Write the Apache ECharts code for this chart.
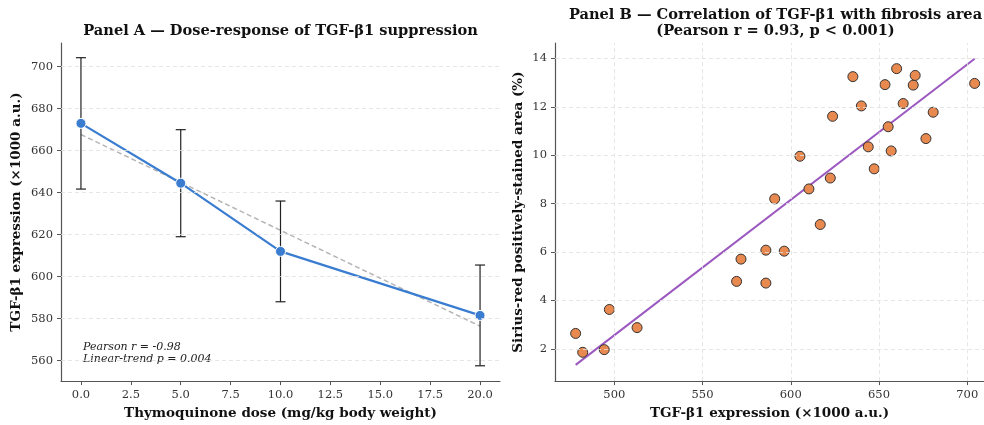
<!DOCTYPE html>
<html>
<head>
<meta charset="utf-8">
<script src="https://cdn.jsdelivr.net/npm/echarts@6/dist/echarts.min.js"></script>
<style>
  html, body { margin: 0; padding: 0; background: #fff; }
  #chart { width: 984px; height: 425px; }
</style>
</head>
<body>
<div id="chart"></div>
<script>
// Panel A: dose-response (mean ± SD)
const doses = [0, 5, 10, 20];
const tgfMeans = [673, 644.5, 612, 581.5];
const tgfErr = [31.3, 25.5, 24, 24];
const doseTicks = [0, 2.5, 5, 7.5, 10, 12.5, 15, 17.5, 20];
const tgfTicks = [560, 580, 600, 620, 640, 660, 680, 700];
const statsTextA = ['Pearson r = -0.98', 'Linear-trend p = 0.004'];
const titleA = 'Panel A — Dose-response of TGF-β1 suppression';

// Panel B: per-animal TGF-β1 vs Sirius-red area
const tgfExpr = [478.1, 482.1, 494.3, 497.2, 512.9, 569.3, 571.8, 585.9, 585.9, 596.3,
                 616.7, 590.9, 610.3, 605.2, 622.4, 623.7, 635.2, 640.0, 643.9, 647.3,
                 653.4, 655.2, 656.9, 660.0, 663.7, 669.4, 670.5, 676.6, 680.7, 704.2];
const fibrosisArea = [2.64, 1.86, 1.97, 3.63, 2.88, 4.79, 5.71, 6.08, 4.72, 6.04,
                      7.14, 8.20, 8.61, 9.96, 9.06, 11.61, 13.25, 12.04, 10.35, 9.44,
                      12.92, 11.18, 10.18, 13.58, 12.14, 12.90, 13.30, 10.69, 11.78, 12.97];
const exprTicks = [500, 550, 600, 650, 700];
const areaTicks = [2, 4, 6, 8, 10, 12, 14];
const titleB = ['Panel B — Correlation of TGF-β1 with fibrosis area', '(Pearson r = 0.93, p < 0.001)'];

// least-squares fit helper
function linFit(xs, ys) {
  const n = xs.length;
  const mx = xs.reduce((a, b) => a + b, 0) / n;
  const my = ys.reduce((a, b) => a + b, 0) / n;
  let sxy = 0, sxx = 0;
  for (let i = 0; i < n; i++) { sxy += (xs[i] - mx) * (ys[i] - my); sxx += (xs[i] - mx) ** 2; }
  const b = sxy / sxx;
  return { a: my - b * mx, b: b };
}

const fitA = linFit(doses, tgfMeans);
const trendA = [Math.min(...doses), Math.max(...doses)].map(x => [x, fitA.a + fitA.b * x]);
const fitB = linFit(tgfExpr, fibrosisArea);
const xMinB = Math.min(...tgfExpr), xMaxB = Math.max(...tgfExpr);
const trendB = [xMinB, xMaxB].map(x => [x, fitB.a + fitB.b * x]);

const FONT = 'DejaVu Serif';
const axisColor = '#555';
const labelColor = '#333';
const TICK_FONT = 11.5;

function gridLines(values) {
  return values.map(v => ({ yAxis: v }));
}

function valueAxis(gridIndex, min, max, ticks, name, nameGap, fmt) {
  return {
    type: 'value', gridIndex: gridIndex, min: min, max: max,
    axisLine: { show: true, onZero: false, lineStyle: { color: axisColor, width: 1.2 } },
    axisTick: { show: true, inside: false, length: 4, customValues: ticks,
                lineStyle: { color: axisColor, width: 1 } },
    axisLabel: { color: labelColor, fontFamily: FONT, fontSize: TICK_FONT, margin: 8,
                 customValues: ticks, formatter: fmt || (v => String(v)) },
    splitLine: { show: false },
    name: name, nameLocation: 'middle', nameGap: nameGap,
    nameTextStyle: { fontFamily: FONT, fontWeight: 'bold', fontSize: 13.5, color: '#111' }
  };
}

function titleText(text, x, y) {
  return {
    type: 'text', x: x, y: y, silent: true,
    style: { text: text, fontFamily: FONT, fontWeight: 'bold', fontSize: 14.6, fill: '#111',
             align: 'center', verticalAlign: 'middle' }
  };
}

const chart = echarts.init(document.getElementById('chart'), null, { renderer: 'canvas' });

const option = {
  animation: false,
  backgroundColor: '#fff',
  grid: [
    { left: 61, top: 43, width: 439, height: 339, containLabel: false },
    { left: 555, top: 43, width: 429, height: 339, containLabel: false }
  ],
  xAxis: [
    valueAxis(0, -1, 21, doseTicks, 'Thymoquinone dose (mg/kg body weight)', 22, v => v.toFixed(1)),
    valueAxis(1, 466.4, 709.5, exprTicks, 'TGF-β1 expression (×1000 a.u.)', 22)
  ],
  yAxis: [
    valueAxis(0, 550.2, 711.3, tgfTicks, 'TGF-β1 expression (×1000 a.u.)', 38),
    valueAxis(1, 0.67, 14.64, areaTicks, 'Sirius-red positively-stained area (%)', 30)
  ],
  series: [
    // horizontal dashed gridlines, panel A
    {
      type: 'line', xAxisIndex: 0, yAxisIndex: 0, data: [], silent: true, z: 0,
      markLine: {
        silent: true, symbol: 'none', label: { show: false }, animation: false,
        lineStyle: { type: [4, 3], color: '#e0e0e0', width: 0.8 },
        data: gridLines(tgfTicks)
      }
    },
    // dashed gridlines, panel B
    {
      type: 'line', xAxisIndex: 1, yAxisIndex: 1, data: [], silent: true, z: 0,
      markLine: {
        silent: true, symbol: 'none', label: { show: false }, animation: false,
        lineStyle: { type: [4, 3], color: '#e0e0e0', width: 0.8 },
        data: gridLines(areaTicks).concat(exprTicks.map(v => ({ xAxis: v })))
      }
    },
    // linear trend, panel A
    {
      type: 'line', xAxisIndex: 0, yAxisIndex: 0, data: trendA, symbol: 'none', z: 2,
      lineStyle: { color: '#b5b5b5', width: 1.5, type: [5, 3] }
    },
    // error bars, panel A
    {
      type: 'custom', xAxisIndex: 0, yAxisIndex: 0, z: 3,
      data: doses.map((d, i) => [d, tgfMeans[i] - tgfErr[i], tgfMeans[i] + tgfErr[i]]),
      renderItem: function (params, api) {
        const lo = api.coord([api.value(0), api.value(1)]);
        const hi = api.coord([api.value(0), api.value(2)]);
        const cap = 5;
        const style = { stroke: '#222', lineWidth: 1.2, fill: null };
        return {
          type: 'group',
          children: [
            { type: 'line', shape: { x1: lo[0], y1: lo[1], x2: hi[0], y2: hi[1] }, style: style },
            { type: 'line', shape: { x1: lo[0] - cap, y1: lo[1], x2: lo[0] + cap, y2: lo[1] }, style: style },
            { type: 'line', shape: { x1: hi[0] - cap, y1: hi[1], x2: hi[0] + cap, y2: hi[1] }, style: style }
          ]
        };
      }
    },
    // mean values, panel A
    {
      type: 'line', xAxisIndex: 0, yAxisIndex: 0, z: 4,
      data: doses.map((d, i) => [d, tgfMeans[i]]),
      symbol: 'circle', symbolSize: 10,
      lineStyle: { color: '#3a7dd0', width: 2.2 },
      itemStyle: { color: '#3a7dd0', borderColor: '#fff', borderWidth: 1 }
    },
    // regression line, panel B
    {
      type: 'line', xAxisIndex: 1, yAxisIndex: 1, data: trendB, symbol: 'none', z: 2,
      lineStyle: { color: '#9b59c0', width: 2 }
    },
    // individual animals, panel B
    {
      type: 'scatter', xAxisIndex: 1, yAxisIndex: 1, z: 4,
      data: tgfExpr.map((x, i) => [x, fibrosisArea[i]]),
      symbolSize: 10,
      itemStyle: { color: '#e8894f', borderColor: '#333', borderWidth: 1, opacity: 1 }
    }
  ],
  graphic: [
    titleText(titleA, 280.5, 31),
    titleText(titleB[0], 775.5, 15),
    titleText(titleB[1], 775.5, 31),
    {
      type: 'text', left: 83, top: 341, silent: true,
      style: { text: statsTextA.join('\n'), fontFamily: FONT, fontStyle: 'italic', fontSize: 11,
               lineHeight: 12, fill: '#222' }
    }
  ]
};

chart.setOption(option);
</script>
</body>
</html>
